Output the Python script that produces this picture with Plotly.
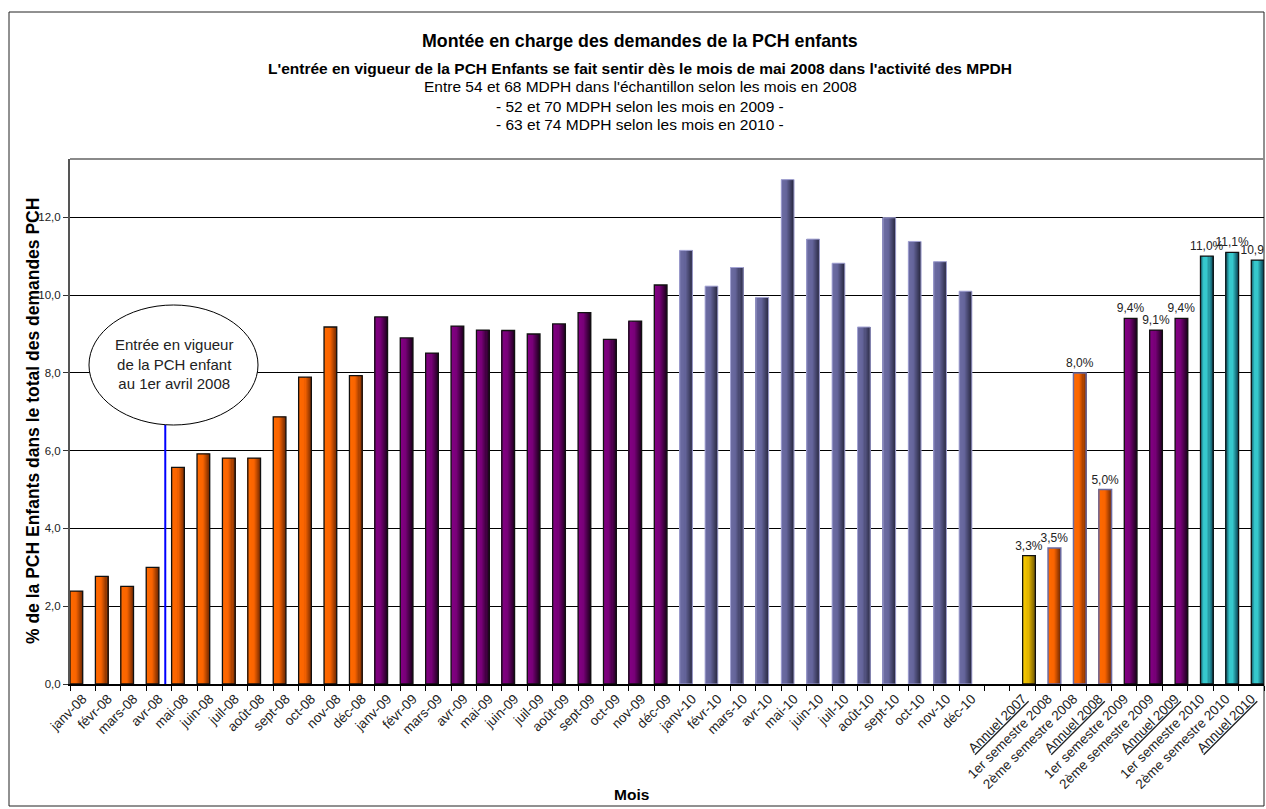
import plotly.graph_objects as go

# ---------------- data ----------------
months_2008 = ["janv-08", "févr-08", "mars-08", "avr-08", "mai-08", "juin-08",
               "juil-08", "août-08", "sept-08", "oct-08", "nov-08", "déc-08"]
values_2008 = [2.39, 2.77, 2.51, 3.00, 5.57, 5.92, 5.81, 5.81, 6.87, 7.89, 9.18, 7.93]

months_2009 = ["janv-09", "févr-09", "mars-09", "avr-09", "mai-09", "juin-09",
               "juil-09", "août-09", "sept-09", "oct-09", "nov-09", "déc-09"]
values_2009 = [9.44, 8.90, 8.51, 9.20, 9.10, 9.09, 9.00, 9.26, 9.55, 8.86, 9.33, 10.26]

months_2010 = ["janv-10", "févr-10", "mars-10", "avr-10", "mai-10", "juin-10",
               "juil-10", "août-10", "sept-10", "oct-10", "nov-10", "déc-10"]
values_2010 = [11.15, 10.23, 10.71, 9.94, 12.97, 11.44, 10.82, 9.18, 11.99, 11.38, 10.86, 10.10]

blank_category = [" "]

summary_2007 = ["<u>Annuel 2007</u>"]
summary_2007_values = [3.3]
summary_2008 = ["1er semestre 2008", "2ème semestre 2008", "<u>Annuel 2008</u>"]
summary_2008_values = [3.5, 8.0, 5.0]
summary_2009 = ["1er semestre 2009", "2ème semestre 2009", "<u>Annuel 2009</u>"]
summary_2009_values = [9.4, 9.1, 9.4]
summary_2010 = ["1er semestre 2010", "2ème semestre 2010", "<u>Annuel 2010</u>"]
summary_2010_values = [11.0, 11.1, 10.9]

all_categories = (months_2008 + months_2009 + months_2010 + blank_category
                  + summary_2007 + summary_2008 + summary_2009 + summary_2010)

title_lines = [
    "Montée en charge des demandes de la PCH enfants",
    "L'entrée en vigueur de la PCH Enfants se fait sentir dès le mois de mai 2008 dans l'activité des MPDH",
    "Entre 54 et 68 MDPH dans l'échantillon selon les mois en 2008",
    "- 52 et 70 MDPH selon les mois en 2009 -",
    "- 63 et 74 MDPH selon les mois en 2010 -",
]
y_title = "% de la PCH Enfants dans le total des demandes PCH"
x_title = "Mois"
callout_text = "Entrée en vigueur<br>de la PCH enfant<br>au 1er avril 2008"

# ---------------- layout geometry (pixels) ----------------
W_PX, H_PX = 1266, 809
L, R, T, B = 70, 2, 159, 125
PW = W_PX - L - R
PH = H_PX - T - B


def px_x(p):
    return (p - L) / PW


def px_y(p):
    return (H_PX - B - p) / PH


FONT = "Liberation Sans, Arial, sans-serif"

fig = go.Figure()


def hex2rgb(h):
    h = h.lstrip("#")
    return tuple(int(h[i:i + 2], 16) for i in (0, 2, 4))


def interp(stops, f):
    for i in range(len(stops) - 1):
        f0, c0 = stops[i]
        f1, c1 = stops[i + 1]
        if f0 <= f <= f1:
            t = 0 if f1 == f0 else (f - f0) / (f1 - f0)
            a, b = hex2rgb(c0), hex2rgb(c1)
            return "rgb(%d,%d,%d)" % tuple(round(a[k] + (b[k] - a[k]) * t) for k in range(3))
    return stops[-1][1]


def add_bars(x, y, stops, outline, lw, base_off, labels=False, nseg=12):
    bw = 0.5
    for i in range(nseg):
        f0 = i / nseg
        f1 = (i + 1) / nseg
        fig.add_bar(x=x, y=y, offset=base_off + f0 * bw, width=(f1 - f0) * bw + 0.002,
                    marker=dict(color=interp(stops, (f0 + f1) / 2), line=dict(width=0)),
                    hoverinfo="skip", showlegend=False)
    kw = {}
    if labels:
        kw = dict(texttemplate="%{y:.1f}%", textposition="outside", cliponaxis=True,
                  textfont=dict(size=12, color="#222", family=FONT),
                  constraintext="none")
    fig.add_bar(x=x, y=y, offset=base_off, width=bw,
                marker=dict(color="rgba(0,0,0,0)", line=dict(color=outline, width=lw)),
                showlegend=False, **kw)


orange = [(0, "#FF6A00"), (0.5, "#FA6400"), (1, "#7A2C00")]
purple = [(0, "#850085"), (0.45, "#780078"), (1, "#220022")]
lavender = [(0, "#6E6EA4"), (0.45, "#64649A"), (1, "#2C2C46")]
yellow = [(0, "#FFD200"), (0.45, "#E6B800"), (1, "#745A00")]
teal = [(0, "#0F5466"), (0.3, "#36C8CC"), (0.55, "#36C8CC"), (1, "#0C4A5C")]

add_bars(months_2008, values_2008, orange, "#111", 1.3, -0.5)
add_bars(months_2009, values_2009, purple, "#111", 1.3, -0.5)
add_bars(months_2010, values_2010, lavender, "#A4A4D4", 1.0, -0.5)
add_bars(summary_2007, summary_2007_values, yellow, "#111", 1.3, 0.0, labels=True)
add_bars(summary_2008, summary_2008_values, orange, "#6A6AA0", 1.5, 0.0, labels=True)
add_bars(summary_2009, summary_2009_values, purple, "#111", 1.3, 0.0, labels=True)
add_bars(summary_2010, summary_2010_values, teal, "#111", 1.3, 0.0, labels=True)

annotations = []
title_y_px = [41, 68, 87, 106, 124]
title_sizes = [17.8, 15.5, 15.5, 15.5, 15.5]
title_bold = [True, True, False, False, False]
for txt, ypx, sz, bd in zip(title_lines, title_y_px, title_sizes, title_bold):
    annotations.append(dict(
        text=("<b>%s</b>" % txt) if bd else txt, x=px_x(640), y=px_y(ypx),
        xref="paper", yref="paper", xanchor="center", yanchor="middle",
        showarrow=False, font=dict(size=sz, color="#000", family=FONT)))

annotations.append(dict(
    text="<b>%s</b>" % y_title, x=px_x(33), y=px_y(421), xref="paper", yref="paper",
    textangle=-90, showarrow=False, xanchor="center", yanchor="middle",
    font=dict(size=17.5, color="#000", family=FONT)))
annotations.append(dict(
    text="<b>%s</b>" % x_title, x=px_x(631), y=px_y(794), xref="paper", yref="paper",
    showarrow=False, xanchor="center", yanchor="middle",
    font=dict(size=15.5, color="#000", family=FONT)))
annotations.append(dict(
    text=callout_text, x=px_x(173.5), y=px_y(364), xref="paper", yref="paper",
    showarrow=False, xanchor="center", yanchor="middle", align="center",
    font=dict(size=15, color="#222", family=FONT)))

shapes = [
    # outer chart border
    dict(type="rect", xref="paper", yref="paper", x0=px_x(9), x1=px_x(1264),
         y0=px_y(806), y1=px_y(12), line=dict(color="#222", width=1), layer="below"),
    # plot area top border
    dict(type="line", xref="paper", yref="paper", x0=0, x1=1, y0=1, y1=1,
         line=dict(color="#8a8a8a", width=2)),
    # blue marker line
    dict(type="line", xref="x", yref="paper", x0=3.25, x1=3.25, y0=0, y1=px_y(425),
         line=dict(color="#0000FF", width=2)),
    # callout ellipse
    dict(type="circle", xref="paper", yref="paper", x0=px_x(89), x1=px_x(258),
         y0=px_y(425), y1=px_y(305), fillcolor="white", line=dict(color="#000", width=1)),
]

fig.update_layout(
    width=W_PX, height=H_PX,
    margin=dict(l=L, r=R, t=T, b=B, autoexpand=False),
    paper_bgcolor="white", plot_bgcolor="white",
    barmode="overlay", separators=", ",
    font=dict(family=FONT, color="#222"),
    showlegend=False,
    annotations=annotations, shapes=shapes,
    xaxis=dict(type="category", categoryorder="array", categoryarray=all_categories,
               range=[-0.5, len(all_categories) - 0.5],
               tickangle=-45, tickson="boundaries", ticks="outside", ticklen=5,
               tickcolor="#000", showline=True, linecolor="#000", linewidth=1.5,
               showgrid=False, tickfont=dict(size=13.5, color="#222", family=FONT)),
    yaxis=dict(range=[0, 13.5], dtick=2, tickformat=".1f", ticks="outside", ticklen=5,
               tickcolor="#333", showline=True, linecolor="#555", linewidth=2,
               showgrid=True, gridcolor="#000", gridwidth=1, zeroline=False,
               tickfont=dict(size=11.5, color="#222", family=FONT)),
)

fig.write_html(
    "out.html",
    config={"displayModeBar": False},
    post_script="document.body.style.margin='0';document.body.style.overflow='hidden';",
)
